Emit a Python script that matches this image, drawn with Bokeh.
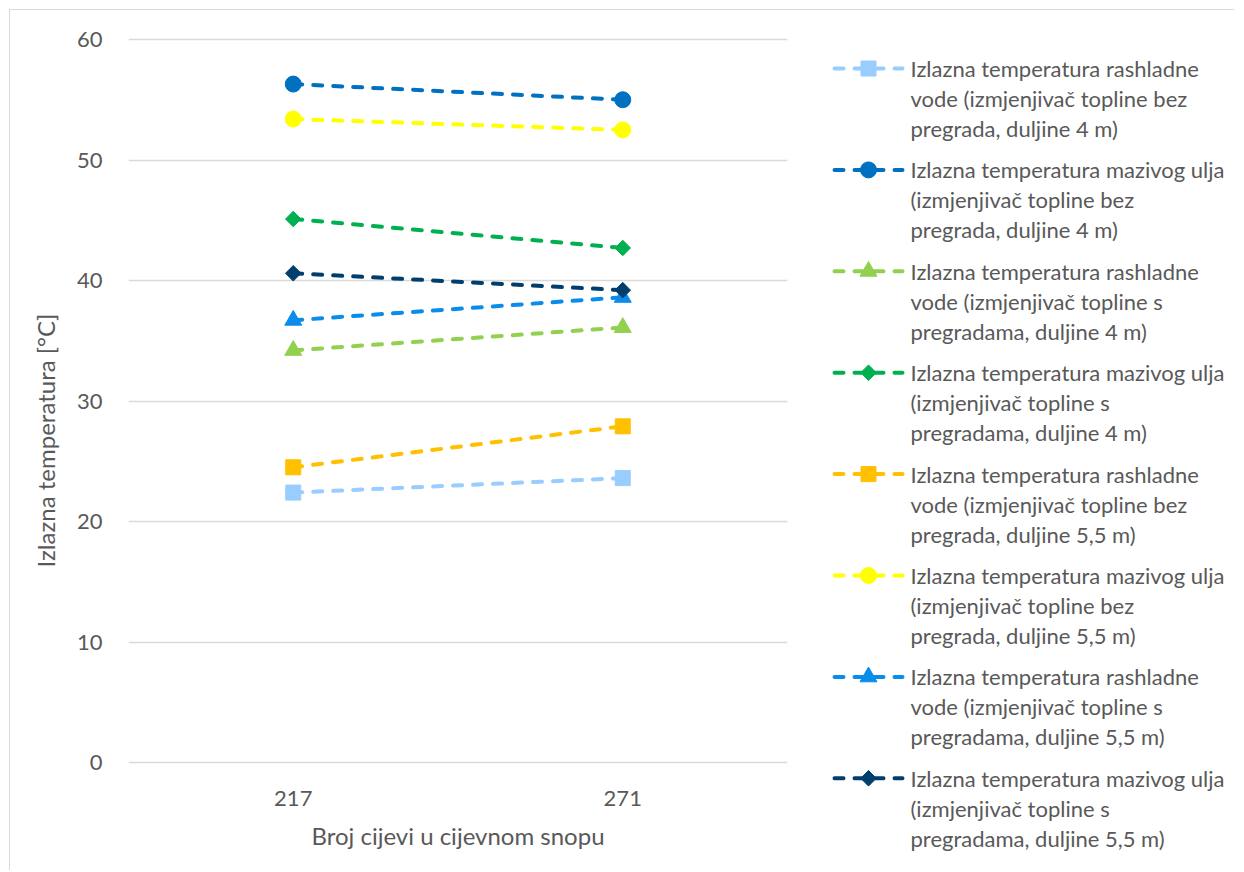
import math
from bokeh.plotting import figure
from bokeh.layouts import row
from bokeh.models import FactorRange, Range1d, ColumnDataSource
from bokeh.core.properties import value
from bokeh.embed import file_html
from bokeh.resources import INLINE

categories = ["217", "271"]

s1 = [22.4, 23.6]   # rashladne, bez pregrada, 4 m
s2 = [56.3, 55.0]   # ulje, bez pregrada, 4 m
s3 = [34.2, 36.1]   # rashladne, s pregradama, 4 m
s4 = [45.1, 42.7]   # ulje, s pregradama, 4 m
s5 = [24.5, 27.9]   # rashladne, bez pregrada, 5,5 m
s6 = [53.4, 52.5]   # ulje, bez pregrada, 5,5 m
s7 = [36.7, 38.6]   # rashladne, s pregradama, 5,5 m
s8 = [40.6, 39.2]   # ulje, s pregradama, 5,5 m

y_ticks = [0, 10, 20, 30, 40, 50, 60]

labels = [
    ["Izlazna temperatura rashladne", "vode (izmjenjivač topline bez", "pregrada, duljine 4 m)"],
    ["Izlazna temperatura mazivog ulja", "(izmjenjivač topline bez", "pregrada, duljine 4 m)"],
    ["Izlazna temperatura rashladne", "vode (izmjenjivač topline s", "pregradama, duljine 4 m)"],
    ["Izlazna temperatura mazivog ulja", "(izmjenjivač topline s", "pregradama, duljine 4 m)"],
    ["Izlazna temperatura rashladne", "vode (izmjenjivač topline bez", "pregrada, duljine 5,5 m)"],
    ["Izlazna temperatura mazivog ulja", "(izmjenjivač topline bez", "pregrada, duljine 5,5 m)"],
    ["Izlazna temperatura rashladne", "vode (izmjenjivač topline s", "pregradama, duljine 5,5 m)"],
    ["Izlazna temperatura mazivog ulja", "(izmjenjivač topline s", "pregradama, duljine 5,5 m)"],
]

series = [s1, s2, s3, s4, s5, s6, s7, s8]
colors = ["#99CCFF", "#0070C0", "#92D050", "#00B050", "#FFC000", "#FFFF00", "#0A8CEB", "#003E6E"]
markers = ["square", "circle", "triangle", "square", "square", "circle", "triangle", "square"]
msizes = [15, 16, 17, 11, 15, 16, 17, 11]
angles = [0, 0, 0, math.pi / 4, 0, 0, 0, math.pi / 4]

FONT = "Lato"
TXT = "#595959"
DASH = "9 11"
LW = 4
H = 860
# pixel layout of the value axis inside a full-height frame
PX_TOP, PX_BOTTOM = 29, 108          # space above 60 and below 0
scale = (H - PX_TOP - PX_BOTTOM) / (y_ticks[-1] - y_ticks[0])
y_start = y_ticks[0] - PX_BOTTOM / scale
y_end = y_ticks[-1] + PX_TOP / scale

p = figure(width=800, height=H, x_range=FactorRange(*categories, range_padding=0),
           y_range=Range1d(y_start, y_end), output_backend="svg", toolbar_location=None,
           min_border_left=118, min_border_right=23, min_border_top=0, min_border_bottom=0)
p.outline_line_color = None
p.xgrid.grid_line_color = None
p.ygrid.grid_line_color = "#D9D9D9"
p.ygrid.grid_line_width = 1.3
p.yaxis.ticker = y_ticks
p.xaxis.fixed_location = y_ticks[0]
for ax in (p.xaxis, p.yaxis):
    ax.axis_line_color = None
    ax.major_tick_line_color = None
    ax.minor_tick_line_color = None
    ax.major_label_text_font = FONT
    ax.major_label_text_font_size = "22px"
    ax.major_label_text_color = TXT
    ax.axis_label_text_font = FONT
    ax.axis_label_text_font_size = "24px"
    ax.axis_label_text_color = TXT
    ax.axis_label_text_font_style = "normal"
p.yaxis.major_label_standoff = 20
p.xaxis.major_label_standoff = 22
p.yaxis.axis_label = "Izlazna temperatura [°C]"
p.xaxis.axis_label = "Broj cijevi u cijevnom snopu"
p.yaxis.axis_label_standoff = 14
p.xaxis.axis_label_standoff = 12

for s, c, m, ms, a in zip(series, colors, markers, msizes, angles):
    src = ColumnDataSource(dict(x=categories, y=s))
    p.line("x", "y", source=src, line_color=c, line_width=LW, line_dash=DASH, line_cap="round")
    p.scatter("x", "y", source=src, marker=m, size=ms, angle=a, fill_color=c, line_color=c)

# legend figure: y in pixels from the top of the figure
W = 424
lg = figure(width=W, height=H, x_range=Range1d(0, W), y_range=Range1d(H, 0),
            output_backend="svg", toolbar_location=None, min_border=0)
lg.axis.visible = False
lg.grid.visible = False
lg.outline_line_color = None

y0, step, lh = 58, 101.4, 30
for i, (lab, c, m, ms, a) in enumerate(zip(labels, colors, markers, msizes, angles)):
    yy = y0 + i * step
    lg.line([24, 92], [yy, yy], line_color=c, line_width=LW, line_dash="9 11", line_cap="round")
    lg.scatter([58], [yy], marker=m, size=ms, angle=a, fill_color=c, line_color=c)
    lg.text([100] * 3, [yy + k * lh for k in range(3)], text=lab, text_font=value(FONT),
            text_font_size="22px", text_color=TXT, text_baseline="middle", text_align="left")

layout = row(p, lg, margin=(9, 0, 0, 9),
             styles={"border-left": "1px solid #D9D9D9", "border-top": "1px solid #D9D9D9"})
open("out.html", "w").write(file_html(layout, INLINE))
